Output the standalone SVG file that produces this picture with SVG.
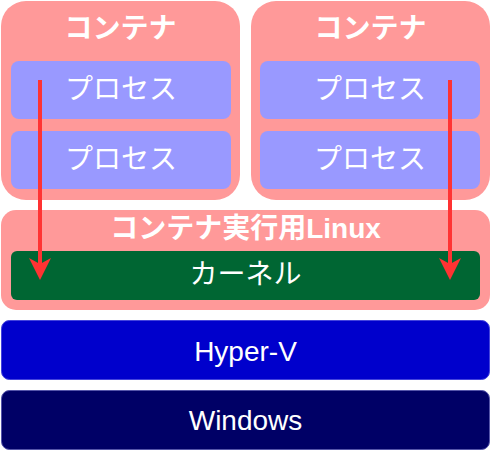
<svg xmlns="http://www.w3.org/2000/svg" width="491" height="451" viewBox="0 0 491 451">
<style>
.t{font-family:"Liberation Sans","Noto Sans CJK JP",sans-serif;font-size:28px;fill:#ffffff;text-anchor:middle}
.b{font-weight:bold}
.cont{fill:#ff9999}
.proc{fill:#9999ff}
.arrow{stroke:#ff3333;stroke-width:4;fill:none}
</style>
<defs>
<marker id="ah" viewBox="0 0 22 22" markerWidth="22" markerHeight="22" markerUnits="userSpaceOnUse" refX="12" refY="11" orient="auto">
<path d="M0,0 L22,11 L0,22 L6,11 Z" fill="#ff3333"/>
</marker>
</defs>
<rect x="0" y="0" width="491" height="451" fill="#ffffff"/>
<g id="container1">
<rect class="cont" x="1" y="1" width="239" height="199" rx="25"/>
<text class="t b" x="120.5" y="38" font-size="26">コンテナ</text>
<g id="process1a"><rect class="proc" x="11" y="61" width="220" height="58" rx="8"/><text class="t" x="121" y="99">プロセス</text></g>
<g id="process1b"><rect class="proc" x="11" y="131" width="220" height="58" rx="8"/><text class="t" x="121" y="169">プロセス</text></g>
</g>
<g id="container2">
<rect class="cont" x="251" y="1" width="239" height="199" rx="25"/>
<text class="t b" x="370.5" y="38" font-size="26">コンテナ</text>
<g id="process2a"><rect class="proc" x="260" y="61" width="220" height="58" rx="8"/><text class="t" x="370" y="99">プロセス</text></g>
<g id="process2b"><rect class="proc" x="260" y="131" width="220" height="58" rx="8"/><text class="t" x="370" y="169">プロセス</text></g>
</g>
<g id="linux">
<rect class="cont" x="1" y="210" width="489" height="100" rx="15"/>
<text class="t b" x="245.5" y="238" font-size="25">コンテナ実行用Linux</text>
<g id="kernel"><rect x="11" y="251" width="469" height="49" rx="6" fill="#006633"/><text class="t" x="245.5" y="284">カーネル</text></g>
</g>
<g id="hyperv">
<rect x="1.5" y="320.5" width="488" height="59" rx="8" fill="#0000cc" stroke="#4444dd" stroke-width="1"/>
<text class="t" x="245.5" y="361">Hyper-V</text>
</g>
<g id="windows">
<rect x="1.5" y="390.5" width="488" height="59" rx="8" fill="#000066" stroke="#5555aa" stroke-width="1"/>
<text class="t" x="245.5" y="430">Windows</text>
</g>
<g id="connectors">
<line class="arrow" x1="40" y1="80" x2="40" y2="270" marker-end="url(#ah)"/>
<line class="arrow" x1="450" y1="80" x2="450" y2="270" marker-end="url(#ah)"/>
</g>
</svg>
